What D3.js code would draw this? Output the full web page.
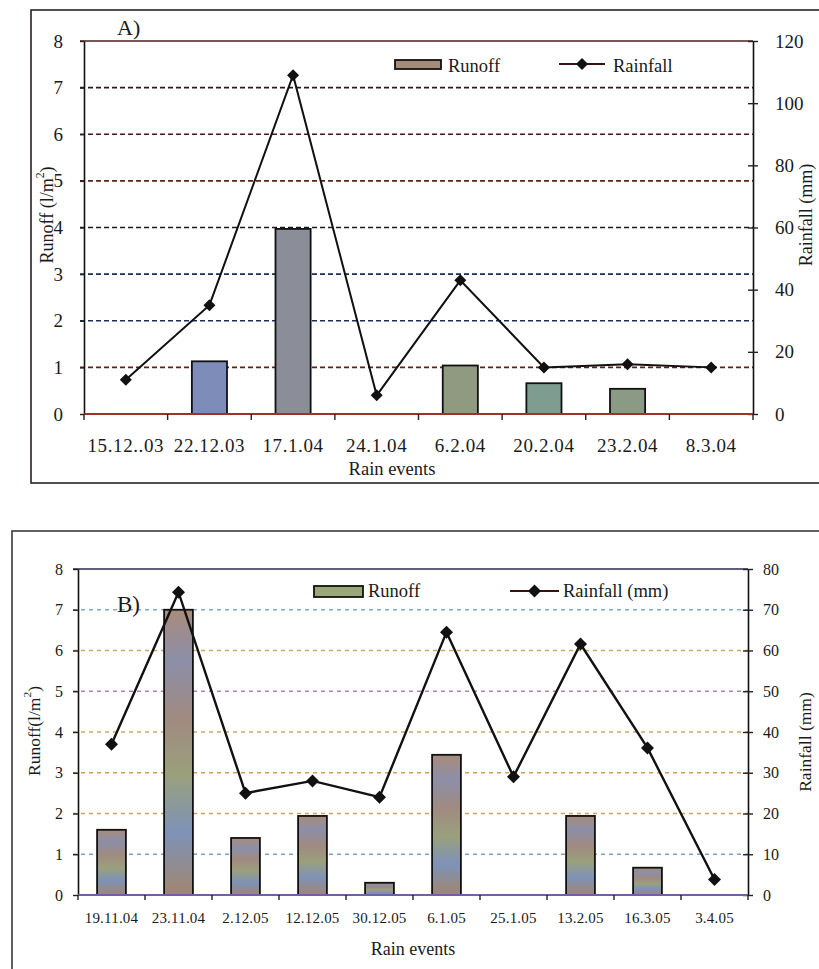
<!DOCTYPE html>
<html>
<head>
<meta charset="utf-8">
<script src="https://cdn.jsdelivr.net/npm/d3@7/dist/d3.min.js"></script>
<style>
  html, body { margin: 0; padding: 0; background: #fff; }
  svg { display: block; }
  text { font-family: "Liberation Serif", "Times New Roman", serif; fill: #1a1a1a; }
</style>
</head>
<body>
<script>
// ---------- Data ----------
const categoriesA = ["15.12..03", "22.12.03", "17.1.04", "24.1.04", "6.2.04", "20.2.04", "23.2.04", "8.3.04"];
const runoffA = [0, 1.13, 3.97, 0, 1.04, 0.66, 0.54, 0];
const rainfallA = [11, 35, 109, 6, 43, 15, 16, 15];
const leftTicksA = [0, 1, 2, 3, 4, 5, 6, 7, 8];
const rightTicksA = [0, 20, 40, 60, 80, 100, 120];

const categoriesB = ["19.11.04", "23.11.04", "2.12.05", "12.12.05", "30.12.05", "6.1.05", "25.1.05", "13.2.05", "16.3.05", "3.4.05"];
const runoffB = [1.6, 7.0, 1.4, 1.94, 0.3, 3.44, 0, 1.94, 0.67, 0];
const rainfallB = [37, 74.3, 25, 28, 24, 64.5, 29, 61.6, 36.1, 3.8];
const leftTicksB = [0, 1, 2, 3, 4, 5, 6, 7, 8];
const rightTicksB = [0, 10, 20, 30, 40, 50, 60, 70, 80];

// ---------- Styles ----------
const gridColorsA = ["#5a2418", "#1c2c5a", "#1c2c5a", "#1a1a22", "#5a2418", "#4a1a1a", "#2a1a1a"];
const gridColorsB = ["#7fa0c8", "#d4a050", "#d4a050", "#d0a860", "#b080b0", "#d0a860", "#7fb0c8"];
const barFillsA = ["#8a8fa0", "#7d8cb8", "#8b8e98", "#8a8fa0", "#8f9a80", "#7f9c90", "#8a9a85", "#8a8fa0"];

const W = 819, H = 969;
const svg = d3.select("body").append("svg").attr("width", W).attr("height", H);
svg.append("rect").attr("width", W).attr("height", H).attr("fill", "#fff");

const defs = svg.append("defs");
const gB = defs.append("linearGradient").attr("id", "rainB").attr("x1", 0).attr("y1", 0).attr("x2", 0).attr("y2", 1);
[["0%", "#a88c7c"], ["18%", "#8c8ea8"], ["38%", "#a08a80"], ["58%", "#9aa07c"], ["78%", "#7e92b8"], ["100%", "#a0866e"]]
  .forEach(([o, c]) => gB.append("stop").attr("offset", o).attr("stop-color", c));

function diamond(sel, x, y, r) {
  sel.append("path")
    .attr("d", `M${x},${y - r}L${x + r},${y}L${x},${y + r}L${x - r},${y}Z`)
    .attr("fill", "#111");
}

function drawPanel(cfg) {
  const g = svg.append("g");
  // outer frame
  g.append("rect").attr("x", cfg.frame[0]).attr("y", cfg.frame[1])
    .attr("width", cfg.frame[2]).attr("height", cfg.frame[3])
    .attr("fill", "none").attr("stroke", cfg.frameColor).attr("stroke-width", 1.6);

  const [L, R, T, B] = cfg.plot;
  const x = d3.scaleBand().domain(cfg.cats).range([L, R]).padding(0);
  const yL = d3.scaleLinear().domain([0, 8]).range([B, T]);
  const yR = d3.scaleLinear().domain([0, cfg.rightMax]).range([B, T]);

  // gridlines
  g.append("g").selectAll("line").data(cfg.leftTicks.filter(v => v > 0 && v < 8)).join("line")
    .attr("x1", L - cfg.tickL).attr("x2", R).attr("y1", d => yL(d)).attr("y2", d => yL(d))
    .attr("stroke", (d, i) => cfg.gridColors[i]).attr("stroke-width", cfg.gridWidth)
    .attr("stroke-dasharray", cfg.gridDash);

  // top border of plot
  g.append("line").attr("x1", L - cfg.tickL).attr("x2", R).attr("y1", T).attr("y2", T)
    .attr("stroke", cfg.topColor).attr("stroke-width", 1.6);

  // bars
  g.append("g").selectAll("rect").data(cfg.runoff).join("rect")
    .attr("x", (d, i) => x(cfg.cats[i]) + x.bandwidth() * (1 - cfg.barFrac) / 2)
    .attr("width", x.bandwidth() * cfg.barFrac)
    .attr("y", d => yL(d)).attr("height", d => yL(0) - yL(d))
    .attr("fill", (d, i) => cfg.barFill(i))
    .attr("stroke", "#111").attr("stroke-width", 1.8)
    .style("display", d => d > 0 ? null : "none");

  // left axis
  const axL = g.append("g").attr("transform", `translate(${L},0)`)
    .call(d3.axisLeft(yL).tickValues(cfg.leftTicks).tickSize(cfg.tickL).tickSizeOuter(0).tickPadding(cfg.padL).tickFormat(d3.format("d")));
  axL.select(".domain").attr("stroke", "#111").attr("stroke-width", 1.6);
  axL.selectAll(".tick line").attr("stroke", "#222").attr("stroke-width", 1.4);
  axL.selectAll("text").attr("font-size", cfg.tickFont).attr("font-family", "Liberation Serif, serif").attr("fill", "#1a1a1a");

  // right axis
  const axR = g.append("g").attr("transform", `translate(${R},0)`)
    .call(d3.axisRight(yR).tickValues(cfg.rightTicks).tickSize(cfg.tickR).tickSizeOuter(0).tickPadding(cfg.padR).tickFormat(d3.format("d")));
  axR.select(".domain").attr("stroke", "#111").attr("stroke-width", 1.6);
  axR.selectAll(".tick line").attr("x1", -cfg.tickR).attr("stroke", "#222").attr("stroke-width", 1.4);
  axR.selectAll("text").attr("font-size", cfg.tickFont).attr("font-family", "Liberation Serif, serif").attr("fill", "#1a1a1a");

  // bottom axis
  g.append("line").attr("x1", L).attr("x2", R).attr("y1", B).attr("y2", B)
    .attr("stroke", cfg.bottomColor).attr("stroke-width", 1.8);
  const bounds = cfg.cats.map(c => x(c)).concat([R]);
  g.append("g").selectAll("line").data(bounds).join("line")
    .attr("x1", d => d).attr("x2", d => d).attr("y1", B).attr("y2", B + cfg.tickB)
    .attr("stroke", "#222").attr("stroke-width", 1.4);
  g.append("g").selectAll("text").data(cfg.cats).join("text")
    .attr("x", d => x(d) + x.bandwidth() / 2).attr("y", cfg.xLabelY)
    .attr("text-anchor", "middle").attr("font-size", cfg.xFont)
    .attr("letter-spacing", cfg.xSpacing)
    .text(d => d);

  // rainfall line
  const line = d3.line().x((d, i) => x(cfg.cats[i]) + x.bandwidth() / 2).y(d => yR(d));
  g.append("path").datum(cfg.rainfall).attr("d", line)
    .attr("fill", "none").attr("stroke", "#111").attr("stroke-width", cfg.lineWidth);
  cfg.rainfall.forEach((d, i) => diamond(g, x(cfg.cats[i]) + x.bandwidth() / 2, yR(d), cfg.markR));

  // panel label
  g.append("text").attr("x", cfg.panelPos[0]).attr("y", cfg.panelPos[1])
    .attr("font-size", cfg.panelFont).text(cfg.panelLabel);

  // legend
  const lg = cfg.legend;
  g.append("rect").attr("x", lg.sw[0]).attr("y", lg.sw[1]).attr("width", lg.sw[2]).attr("height", lg.sw[3])
    .attr("fill", lg.swFill).attr("stroke", "#111").attr("stroke-width", 1.8);
  g.append("text").attr("x", lg.t1[0]).attr("y", lg.t1[1]).attr("font-size", lg.font).text("Runoff");
  g.append("line").attr("x1", lg.ln[0]).attr("x2", lg.ln[1]).attr("y1", lg.ln[2]).attr("y2", lg.ln[2])
    .attr("stroke", lg.lnColor).attr("stroke-width", 1.8);
  diamond(g, (lg.ln[0] + lg.ln[1]) / 2, lg.ln[2], cfg.markR);
  g.append("text").attr("x", lg.t2[0]).attr("y", lg.t2[1]).attr("font-size", lg.font).text(lg.rainText);

  // axis titles
  const yl = g.append("text").attr("transform", `translate(${cfg.yLabelL[0]},${cfg.yLabelL[1]}) rotate(-90)`)
    .attr("text-anchor", "middle").attr("dominant-baseline", "central").attr("font-size", cfg.titleFont);
  yl.append("tspan").text(cfg.yTitle);
  yl.append("tspan").attr("font-size", cfg.titleFont * 0.65).attr("dy", -cfg.titleFont * 0.4).text("2");
  yl.append("tspan").attr("dy", cfg.titleFont * 0.4).text(")");

  g.append("text").attr("transform", `translate(${cfg.yLabelR[0]},${cfg.yLabelR[1]}) rotate(-90)`)
    .attr("text-anchor", "middle").attr("dominant-baseline", "central").attr("font-size", cfg.titleFont)
    .text("Rainfall (mm)");

  g.append("text").attr("x", cfg.xTitle[0]).attr("y", cfg.xTitle[1]).attr("text-anchor", "middle")
    .attr("font-size", cfg.xTitleFont).text("Rain events");
}

drawPanel({
  frame: [31, 10, 820, 473], frameColor: "#2a2222",
  plot: [84, 753, 41, 414],
  cats: categoriesA, runoff: runoffA, rainfall: rainfallA,
  leftTicks: leftTicksA, rightTicks: rightTicksA, rightMax: 120,
  gridColors: gridColorsA, gridWidth: 1.6, gridDash: "5,3",
  topColor: "#4a1f1f", bottomColor: "#a0302a",
  barFrac: 0.42, barFill: i => barFillsA[i],
  tickL: 4, padL: 17, tickR: 5, padR: 17, tickB: 6,
  tickFont: 19, xFont: 19, xSpacing: 0.6, xLabelY: 452,
  lineWidth: 2, markR: 6,
  panelLabel: "A)", panelPos: [117, 35], panelFont: 22,
  legend: { sw: [395, 60, 46, 9], swFill: "#a88a78", t1: [448, 72], ln: [559, 605, 64], lnColor: "#3a1010", t2: [613, 72], font: 18.5, rainText: "Rainfall" },
  yTitle: "Runoff (l/m", yLabelL: [47, 215], yLabelR: [806, 215], titleFont: 18,
  xTitle: [392, 475], xTitleFont: 18.5
});

drawPanel({
  frame: [12, 531, 830, 460], frameColor: "#3a3a44",
  plot: [78, 748, 569, 895],
  cats: categoriesB, runoff: runoffB, rainfall: rainfallB,
  leftTicks: leftTicksB, rightTicks: rightTicksB, rightMax: 80,
  gridColors: gridColorsB, gridWidth: 1.3, gridDash: "4,4",
  topColor: "#2a2a50", bottomColor: "#7060a8",
  barFrac: 0.43, barFill: i => "url(#rainB)",
  tickL: 5, padL: 10, tickR: 5, padR: 10, tickB: 5,
  tickFont: 16, xFont: 15, xSpacing: 0.2, xLabelY: 923,
  lineWidth: 2.4, markR: 6.5,
  panelLabel: "B)", panelPos: [117, 612], panelFont: 23,
  legend: { sw: [314, 586, 49, 11], swFill: "#9aa878", t1: [368, 597], ln: [510, 559, 591], lnColor: "#3a1010", t2: [563, 597], font: 18.5, rainText: "Rainfall (mm)" },
  yTitle: "Runoff(l/m", yLabelL: [34, 731], yLabelR: [805, 742], titleFont: 17.5,
  xTitle: [413, 955], xTitleFont: 18
});
</script>
</body>
</html>
